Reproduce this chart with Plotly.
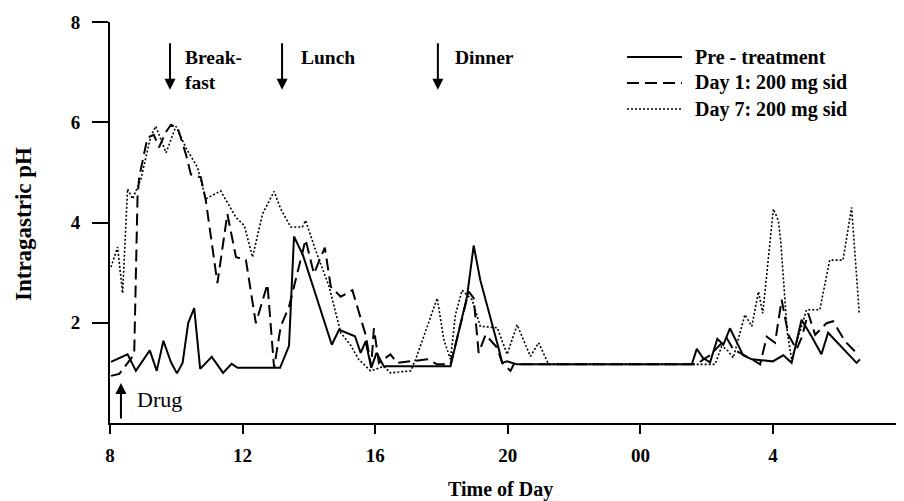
import plotly.graph_objects as go

# ---- data (hours since midnight of day 1; 24+ = next day) ----
pre_x = [8.03, 8.53, 8.78, 9.20, 9.41, 9.61, 9.84, 10.02, 10.19, 10.36, 10.54, 10.72, 11.07, 11.41,
         11.67, 11.85, 13.13, 13.40, 13.55, 13.82, 14.69, 14.91, 15.39, 15.56, 15.71, 15.88, 16.04,
         16.26, 18.27, 18.77, 18.97, 19.17, 19.73, 19.83, 19.98, 20.28, 25.55, 25.70, 25.88, 26.10,
         26.32, 26.50, 26.70, 27.10, 27.36, 27.99, 28.31, 28.56, 28.86, 29.16, 29.46, 29.66, 30.52, 30.62]
pre_y = [1.22, 1.37, 1.04, 1.45, 1.04, 1.64, 1.21, 0.99, 1.20, 2.00, 2.29, 1.08, 1.32, 1.00,
         1.18, 1.10, 1.10, 1.54, 3.72, 3.35, 1.56, 1.86, 1.73, 1.40, 1.63, 1.10, 1.40,
         1.13, 1.13, 2.52, 3.54, 2.85, 1.47, 1.20, 1.23, 1.17, 1.17, 1.48, 1.30, 1.21,
         1.68, 1.56, 1.89, 1.35, 1.27, 1.23, 1.35, 1.20, 2.06, 1.73, 1.37, 1.80, 1.20, 1.27]

day1_x = [8.03, 8.28, 8.73, 8.83, 8.88, 8.98, 9.13, 9.32, 9.48, 9.68, 9.84, 10.04, 10.29, 10.44,
          10.74, 10.89, 11.24, 11.54, 11.80, 12.10, 12.40, 12.75, 12.95, 13.15, 13.40, 13.90,
          14.15, 14.48, 14.66, 14.96, 15.31, 15.71, 15.88, 15.96, 16.11, 16.46, 16.66, 17.57,
          17.87, 18.27, 18.57, 18.82, 18.97, 19.12, 19.33, 19.68, 19.83, 20.08, 20.18, 25.70,
          25.90, 26.10, 26.60, 26.80, 27.36, 27.61, 27.81, 28.06, 28.26, 28.46, 28.71, 28.86,
          29.06, 29.27, 29.61, 29.81, 30.17, 30.47, 30.57]
day1_y = [0.94, 0.98, 1.37, 4.50, 4.90, 5.23, 5.69, 5.75, 5.50, 5.80, 5.95, 5.89, 5.36, 4.96,
          4.90, 4.44, 2.79, 4.17, 3.31, 3.25, 1.99, 2.77, 1.10, 1.93, 2.32, 3.66,
          2.98, 3.50, 2.72, 2.52, 2.65, 1.76, 1.13, 1.89, 1.20, 1.37, 1.20, 1.27,
          1.17, 1.17, 1.93, 2.62, 2.49, 1.40, 1.76, 1.50, 1.20, 1.04, 1.17, 1.17,
          1.27, 1.35, 1.70, 1.47, 1.27, 1.17, 1.72, 1.60, 2.46, 1.76, 1.47, 1.70,
          2.19, 1.76, 1.99, 2.03, 1.63, 1.43, 1.53]

day7_x = [8.03, 8.23, 8.38, 8.53, 8.68, 8.93, 9.23, 9.38, 9.69, 9.99, 10.29, 10.64, 10.89, 11.34,
          11.80, 12.05, 12.30, 12.60, 12.95, 13.15, 13.45, 13.80, 13.90, 14.20, 14.61, 14.96,
          15.26, 15.50, 15.86, 16.26, 16.46, 17.07, 17.22, 17.87, 18.07, 18.27, 18.42, 18.62,
          18.92, 19.17, 19.68, 19.98, 20.28, 20.68, 20.93, 21.23, 26.25, 26.45, 26.60, 26.80,
          27.15, 27.36, 27.56, 27.69, 28.01, 28.16, 28.23, 28.43, 28.56, 29.01, 29.41, 29.71,
          30.11, 30.37, 30.60]
day7_y = [3.11, 3.51, 2.59, 4.67, 4.47, 4.86, 5.72, 5.92, 5.39, 5.92, 5.49, 5.10, 4.47, 4.63,
          4.10, 3.94, 3.31, 4.17, 4.62, 4.27, 3.91, 3.91, 4.04, 3.45, 2.72, 1.80,
          1.55, 1.27, 1.04, 1.13, 1.00, 1.04, 1.27, 2.49, 1.66, 1.27, 2.16, 2.65,
          2.46, 1.93, 1.90, 1.37, 1.96, 1.33, 1.60, 1.17, 1.17, 1.53, 1.47, 1.30,
          2.16, 1.93, 2.62, 2.19, 4.27, 4.04, 3.64, 1.80, 1.27, 2.26, 2.26, 3.25,
          3.25, 4.30, 2.19]

series_names = ["Pre - treatment", "Day 1: 200 mg sid", "Day 7: 200 mg sid"]
tick_vals = [8, 12, 16, 20, 24, 28]
tick_text = ["8", "12", "16", "20", "00", "4"]
y_tick_vals = [2, 4, 6, 8]

meal_names = ["Break-<br>fast", "Lunch", "Dinner"]
meal_times = [9.81, 13.19, 17.89]
drug_time = 8.33

SERIF = "Liberation Serif, Times New Roman, serif"

# page has an 8px body margin: plot area spans page x 110..904, y 22..423
PX0, PW, PY0, PH = 110, 794, 423, 401


def px(xp):
    return (xp - PX0) / PW


def py(yp):
    return (PY0 - yp) / PH


fig = go.Figure()
styles = [dict(color="black", width=2, dash="solid"),
          dict(color="black", width=2, dash="12px,6px"),
          dict(color="black", width=1.6, dash="2px,2px")]
for xs, ys, nm, st in zip([pre_x, day1_x, day7_x], [pre_y, day1_y, day7_y], series_names, styles):
    fig.add_trace(go.Scatter(x=xs, y=ys, mode="lines", name=nm, line=st, showlegend=False))

fig.update_layout(
    width=896, height=493,
    margin=dict(l=102, r=0, t=14, b=78),
    paper_bgcolor="white", plot_bgcolor="white",
    font=dict(family=SERIF, color="black"),
)
fig.update_xaxes(range=[8, 31.95], tickvals=tick_vals, ticktext=tick_text,
                 ticks="outside", ticklen=9, tickwidth=2, tickcolor="black",
                 ticklabelstandoff=5,
                 showline=True, linewidth=2, linecolor="black", showgrid=False, zeroline=False,
                 tickfont=dict(family=SERIF, size=19, weight="bold"))
fig.update_yaxes(range=[0, 8], tickvals=y_tick_vals,
                 ticks="outside", ticklen=16, tickwidth=2, tickcolor="black",
                 ticklabelstandoff=8,
                 showline=True, linewidth=2, linecolor="black", showgrid=False, zeroline=False,
                 tickfont=dict(family=SERIF, size=19, weight="bold"))

ann = []
# right-edge cut "8" tick label
ann.append(dict(xref="paper", yref="paper", x=px(896), y=py(455), xanchor="left", yanchor="middle",
                text="<b>8</b>", showarrow=False, font=dict(family=SERIF, size=19)))
# axis titles
ann.append(dict(xref="paper", yref="paper", x=px(500), y=py(489),
                text="<b>Time of Day</b>", showarrow=False, font=dict(family=SERIF, size=20),
                xanchor="center", yanchor="middle"))
ann.append(dict(xref="paper", yref="paper", x=px(24), y=py(224),
                text="<b>Intragastric pH</b>", showarrow=False, textangle=-90,
                font=dict(family=SERIF, size=23), xanchor="center", yanchor="middle"))
# meal arrows and labels
label_offsets = [0.40, 0.50, 0.47]
label_y = [7.05, 7.29, 7.29]
for name, t, off, ly in zip(meal_names, meal_times, label_offsets, label_y):
    ann.append(dict(x=t, y=6.65, xref="x", yref="y", ax=0, ay=-48, text="", showarrow=True,
                    arrowhead=2, arrowsize=1.1, arrowwidth=2, arrowcolor="black"))
    ann.append(dict(x=t + off, y=ly, xref="x", yref="y", text="<b>" + name + "</b>", showarrow=False,
                    xanchor="left", yanchor="middle", align="left",
                    font=dict(family=SERIF, size=19.5)))
# drug arrow
ann.append(dict(x=drug_time, y=0.80, xref="x", yref="y", ax=0, ay=37, text="", showarrow=True,
                arrowhead=2, arrowsize=1.1, arrowwidth=2, arrowcolor="black"))
ann.append(dict(x=drug_time + 0.42, y=0.46, xref="x", yref="y", text="Drug", showarrow=False,
                xanchor="left", yanchor="middle", font=dict(family=SERIF, size=22)))

# manual legend
legend_y = [57, 83, 109]
shapes = []
for nm, st, ly in zip(series_names, styles, legend_y):
    shapes.append(dict(type="line", xref="paper", yref="paper",
                       x0=px(627), x1=px(682), y0=py(ly), y1=py(ly),
                       line=dict(color="black", width=st["width"], dash=st["dash"])))
    ann.append(dict(xref="paper", yref="paper", x=px(693), y=py(ly),
                    text="<b>" + nm + "</b>", showarrow=False, xanchor="left", yanchor="middle",
                    font=dict(family=SERIF, size=20)))

fig.update_layout(annotations=ann, shapes=shapes)
fig.write_html("out.html")
